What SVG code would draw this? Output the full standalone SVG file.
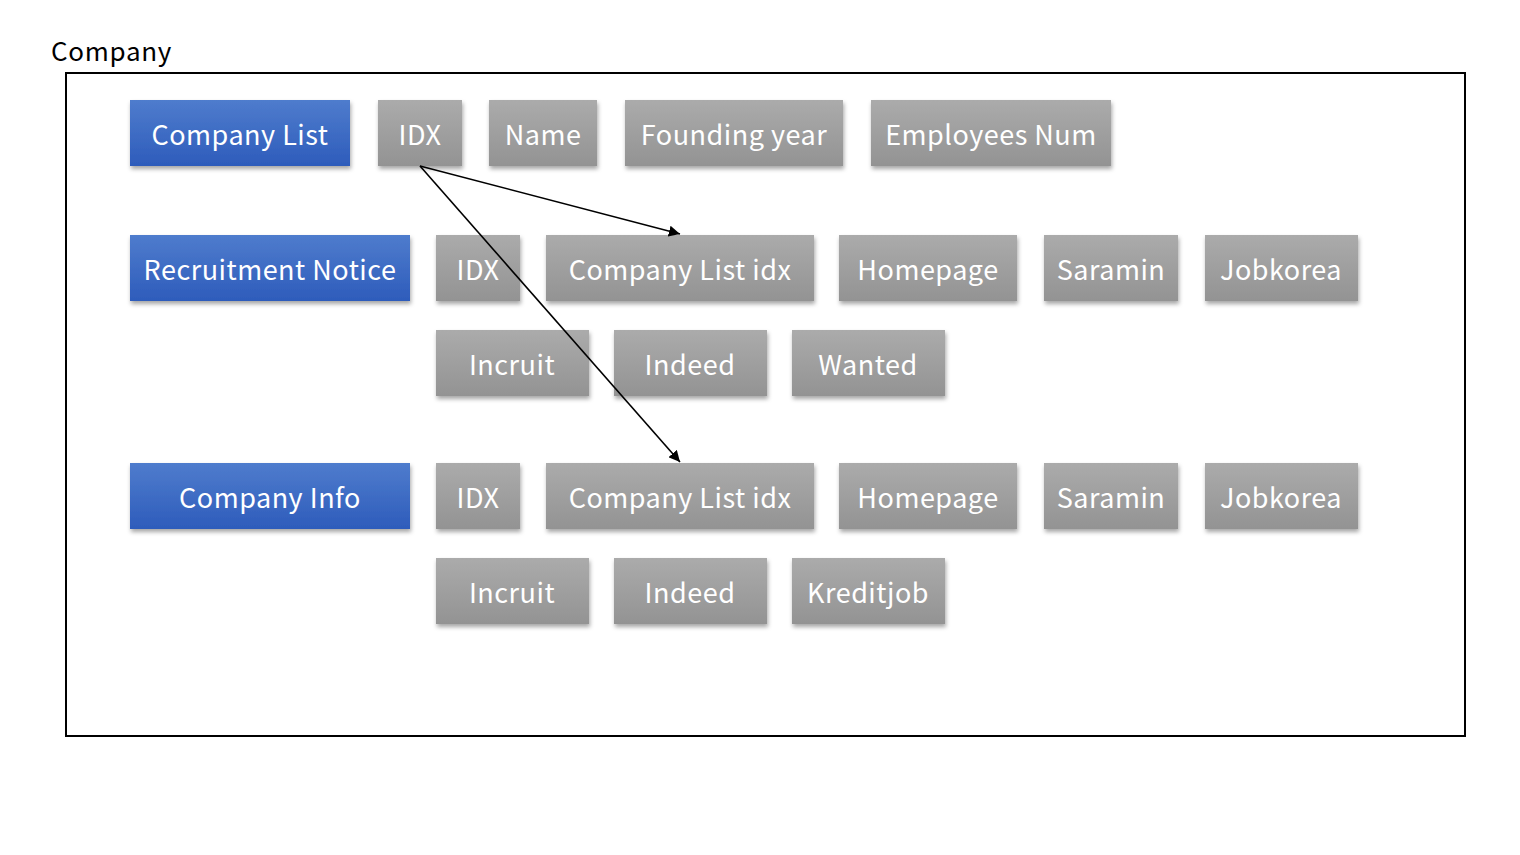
<svg xmlns="http://www.w3.org/2000/svg" width="1520" height="855" viewBox="0 0 1520 855">
<defs>
<linearGradient id="gGray" x1="0" y1="0" x2="0" y2="1"><stop offset="0" stop-color="#ababab"/><stop offset="1" stop-color="#939393"/></linearGradient>
<linearGradient id="gBlue" x1="0" y1="0" x2="0" y2="1"><stop offset="0" stop-color="#4f7ccd"/><stop offset="1" stop-color="#2e5cbb"/></linearGradient>
<filter id="sh" x="-10%" y="-10%" width="130%" height="140%"><feDropShadow dx="1" dy="3" stdDeviation="2" flood-color="#000" flood-opacity="0.35"/></filter>
<marker id="ah" viewBox="0 0 10 10" refX="10" refY="5" markerWidth="7" markerHeight="7" orient="auto-start-reverse"><path d="M0,0 L10,5 L0,10 z" fill="#000"/></marker>
<style>
.g{fill:url(#gGray);filter:url(#sh)}
.b{fill:url(#gBlue);filter:url(#sh)}
.t{font-family:"Noto Sans CJK KR","Open Sans",sans-serif;font-size:27px;letter-spacing:0.5px;fill:#fff;text-anchor:middle;dominant-baseline:central}
.c{stroke:#000;stroke-width:1.6;fill:none;marker-end:url(#ah)}
</style>
</defs>
<rect width="1520" height="855" fill="#fff"/>
<text x="51" y="61" font-family="Noto Sans CJK KR, Open Sans, sans-serif" font-size="26" letter-spacing="0.7" fill="#000">Company</text>
<rect x="66" y="73" width="1399" height="663" fill="none" stroke="#000" stroke-width="2"/>

<g id="n-company-list"><rect class="b" x="130" y="100" width="220" height="66"/><text class="t" x="240" y="133">Company List</text></g>
<g id="n-cl-idx"><rect class="g" x="378" y="100" width="84" height="66"/><text class="t" x="420" y="133">IDX</text></g>
<g id="n-cl-name"><rect class="g" x="489" y="100" width="108" height="66"/><text class="t" x="543" y="133">Name</text></g>
<g id="n-cl-founding"><rect class="g" x="625" y="100" width="218" height="66"/><text class="t" x="734" y="133">Founding year</text></g>
<g id="n-cl-employees"><rect class="g" x="871" y="100" width="240" height="66"/><text class="t" x="991" y="133">Employees Num</text></g>

<g id="n-recruitment-notice"><rect class="b" x="130" y="235" width="280" height="66"/><text class="t" x="270" y="268">Recruitment Notice</text></g>
<g id="n-rn-idx"><rect class="g" x="436" y="235" width="84" height="66"/><text class="t" x="478" y="268">IDX</text></g>
<g id="n-rn-clidx"><rect class="g" x="546" y="235" width="268" height="66"/><text class="t" x="680" y="268">Company List idx</text></g>
<g id="n-rn-homepage"><rect class="g" x="839" y="235" width="178" height="66"/><text class="t" x="928" y="268">Homepage</text></g>
<g id="n-rn-saramin"><rect class="g" x="1044" y="235" width="134" height="66"/><text class="t" x="1111" y="268">Saramin</text></g>
<g id="n-rn-jobkorea"><rect class="g" x="1205" y="235" width="153" height="66"/><text class="t" x="1281" y="268">Jobkorea</text></g>
<g id="n-rn-incruit"><rect class="g" x="436" y="330" width="153" height="66"/><text class="t" x="512" y="363">Incruit</text></g>
<g id="n-rn-indeed"><rect class="g" x="614" y="330" width="153" height="66"/><text class="t" x="690" y="363">Indeed</text></g>
<g id="n-rn-wanted"><rect class="g" x="792" y="330" width="153" height="66"/><text class="t" x="868" y="363">Wanted</text></g>

<g id="n-company-info"><rect class="b" x="130" y="463" width="280" height="66"/><text class="t" x="270" y="496">Company Info</text></g>
<g id="n-ci-idx"><rect class="g" x="436" y="463" width="84" height="66"/><text class="t" x="478" y="496">IDX</text></g>
<g id="n-ci-clidx"><rect class="g" x="546" y="463" width="268" height="66"/><text class="t" x="680" y="496">Company List idx</text></g>
<g id="n-ci-homepage"><rect class="g" x="839" y="463" width="178" height="66"/><text class="t" x="928" y="496">Homepage</text></g>
<g id="n-ci-saramin"><rect class="g" x="1044" y="463" width="134" height="66"/><text class="t" x="1111" y="496">Saramin</text></g>
<g id="n-ci-jobkorea"><rect class="g" x="1205" y="463" width="153" height="66"/><text class="t" x="1281" y="496">Jobkorea</text></g>
<g id="n-ci-incruit"><rect class="g" x="436" y="558" width="153" height="66"/><text class="t" x="512" y="591">Incruit</text></g>
<g id="n-ci-indeed"><rect class="g" x="614" y="558" width="153" height="66"/><text class="t" x="690" y="591">Indeed</text></g>
<g id="n-ci-kreditjob"><rect class="g" x="792" y="558" width="153" height="66"/><text class="t" x="868" y="591">Kreditjob</text></g>

<g id="connectors">
<line class="c" x1="420" y1="166" x2="680" y2="234"/>
<line class="c" x1="420" y1="166" x2="680" y2="462"/>
</g>
</svg>
